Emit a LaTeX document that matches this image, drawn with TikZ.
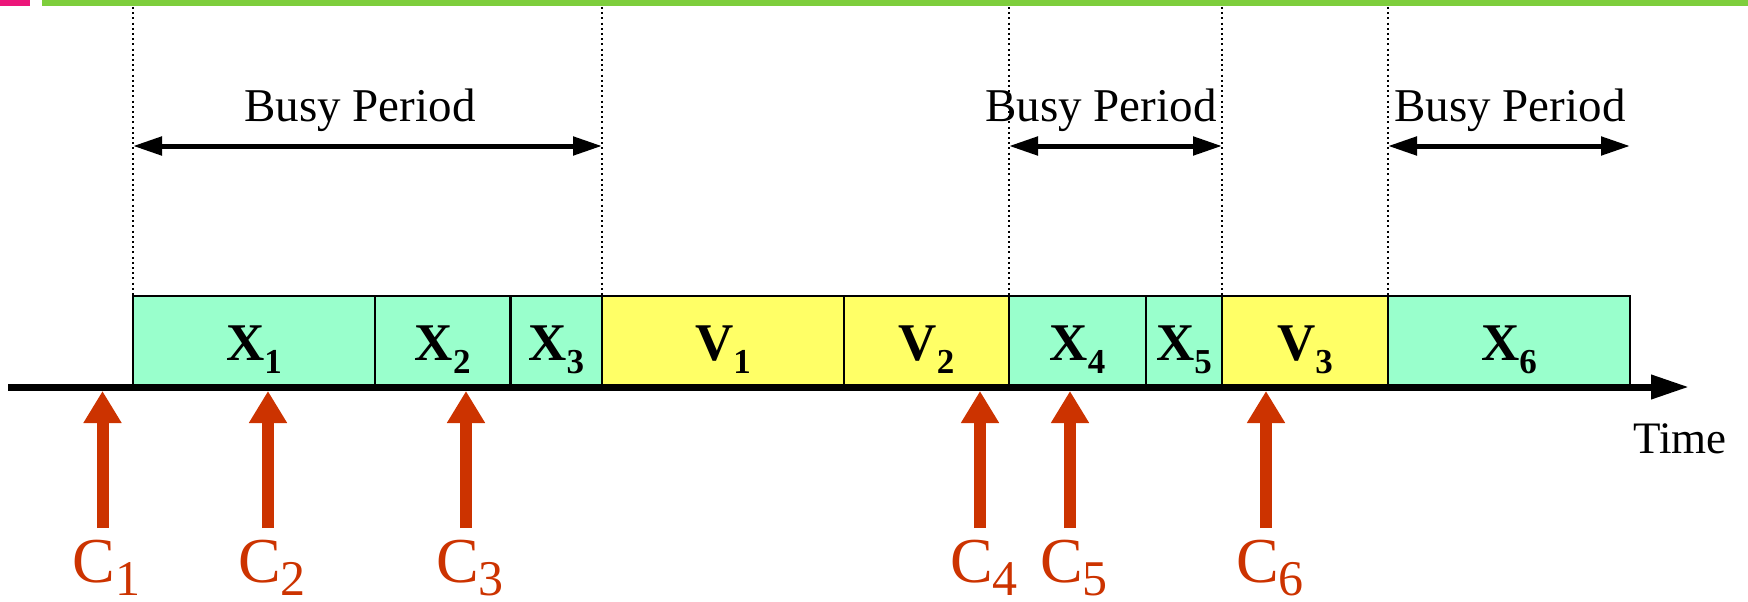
\documentclass[tikz,border=0pt]{standalone}
\usepackage{fontspec}
\setmainfont{Liberation Serif}
\usetikzlibrary{arrows.meta}
\definecolor{boxgreen}{RGB}{153,255,204}
\definecolor{boxyellow}{RGB}{255,255,102}
\definecolor{arrred}{RGB}{204,51,0}
\definecolor{barpink}{RGB}{236,22,122}
\definecolor{bargreen}{RGB}{126,206,60}
\newcommand\xsub[2]{#1\raisebox{-13pt}{\fontsize{35}{35}\selectfont #2}}
\newcommand\csub[1]{C\raisebox{-13pt}[0pt][0pt]{\fontsize{50}{50}\selectfont #1}}
\begin{document}
\begin{tikzpicture}[x=1pt,y=-1pt,
 slot/.style={draw=black,line width=2.5pt,minimum height=91pt,inner sep=0pt,outer sep=0pt},
 job/.style={slot,fill=boxgreen},
 vac/.style={slot,fill=boxyellow},
 lbl/.style={anchor=base,inner sep=0pt,font=\fontsize{53}{60}\selectfont\bfseries},
 clbl/.style={anchor=base,inner sep=0pt,text=arrred,font=\fontsize{64}{70}\selectfont},
 busy/.style={anchor=base,inner sep=0pt,font=\fontsize{47}{52}\selectfont},
 guide/.style={line width=2pt,dash pattern=on 2pt off 3.2pt},
 span/.style={line width=5pt,{Triangle[length=29pt,width=18pt]}-{Triangle[length=29pt,width=18pt]}},
 arrival/.style={line width=12pt,arrred,-{Triangle[length=32pt,width=36pt]}},
 axisline/.style={line width=7pt,-{Triangle[length=38pt,width=23pt]}},
]
\useasboundingbox (0,0) rectangle (1748,602);
% top bars
\fill[barpink] (0,0) rectangle (30,6);
\fill[bargreen] (42,0) rectangle (1748,6);

% boxes
\node[job,minimum width=242pt] (x1) at (254,341.5) {};
\node[job,minimum width=135.5pt] (x2) at (442.75,341.5) {};
\node[job,minimum width=91.5pt] (x3) at (556.25,341.5) {};
\node[vac,minimum width=242pt] (v1) at (723,341.5) {};
\node[vac,minimum width=165pt] (v2) at (926.5,341.5) {};
\node[job,minimum width=137pt] (x4) at (1077.5,341.5) {};
\node[job,minimum width=76pt] (x5) at (1184,341.5) {};
\node[vac,minimum width=166pt] (v3) at (1305,341.5) {};
\node[job,minimum width=242pt] (x6) at (1509,341.5) {};

% box labels
\node[lbl] (lx1) at (254,360) {\xsub{X}{1}};
\node[lbl] (lx2) at (442.75,360) {\xsub{X}{2}};
\node[lbl] (lx3) at (556.25,360) {\xsub{X}{3}};
\node[lbl] (lv1) at (723,360) {\xsub{V}{1}};
\node[lbl] (lv2) at (926.5,360) {\xsub{V}{2}};
\node[lbl] (lx4) at (1077.5,360) {\xsub{X}{4}};
\node[lbl] (lx5) at (1184,360) {\xsub{X}{5}};
\node[lbl] (lv3) at (1305,360) {\xsub{V}{3}};
\node[lbl] (lx6) at (1509,360) {\xsub{X}{6}};

% dotted guides
\coordinate (g1) at (133,7);
\coordinate (g2) at (602,7);
\coordinate (g3) at (1009,7);
\coordinate (g4) at (1222,7);
\coordinate (g5) at (1388,7);
\draw[guide] (g1) -- (x1.north west);
\draw[guide] (g2) -- (x3.north east);
\draw[guide] (g3) -- (x4.north west);
\draw[guide] (g4) -- (x5.north east);
\draw[guide] (g5) -- (x6.north west);

% busy periods
\coordinate (b1l) at (133,146);
\coordinate (b1r) at (602,146);
\coordinate (b2l) at (1009,146);
\coordinate (b2r) at (1222,146);
\coordinate (b3l) at (1388,146);
\coordinate (b3r) at (1630,146);
\draw[span] (b1l) -- (b1r);
\draw[span] (b2l) -- (b2r);
\draw[span] (b3l) -- (b3r);
\node[busy] (bp1) at (360,121) {Busy Period};
\node[busy] (bp2) at (1101,121) {Busy Period};
\node[busy] (bp3) at (1510,121) {Busy Period};

% time axis
\coordinate (ax0) at (8,387);
\coordinate (ax1) at (1689,387);
\draw[axisline] (ax0) -- (ax1);
\node[anchor=base west,inner sep=0pt,font=\fontsize{45}{50}\selectfont] (time) at (1633,453) {Time};

% arrivals
\foreach \i/\xx in {1/102.5,2/268,3/466,4/980,5/1070,6/1266}{
  \coordinate (c\i s) at (\xx,528);
  \coordinate (c\i t) at (\xx,391);
  \draw[arrival] (c\i s) -- (c\i t);
  \node[clbl] (c\i) at (\xx+4,582) {\csub{\i}};
}
\end{tikzpicture}
\end{document}
